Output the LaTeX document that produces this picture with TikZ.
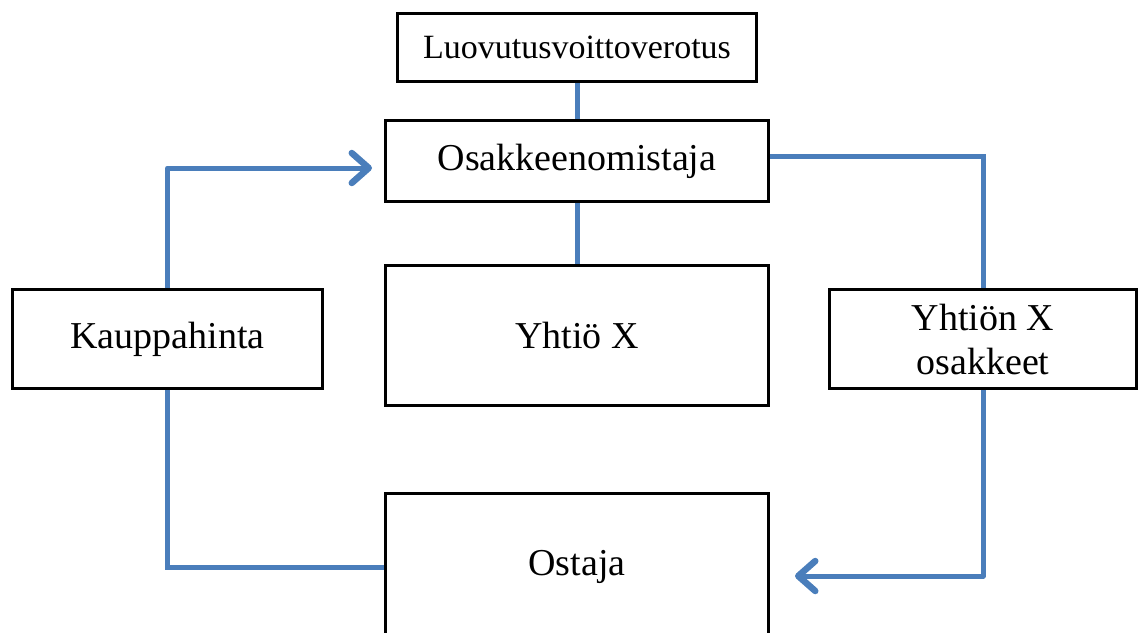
\documentclass[tikz,border=0pt]{standalone}
\usepackage{fontspec}
\setmainfont{Liberation Serif}
\usetikzlibrary{arrows.meta}
\definecolor{flowblue}{HTML}{4A7EBB}
\begin{document}
\begin{tikzpicture}[x=1pt,y=-1pt,
  box/.style={draw=black, line width=3pt, fill=white, inner sep=0pt, align=center,
    font=\fontsize{38}{44}\selectfont},
  link/.style={draw=flowblue, line width=5pt},
  flow/.style={link, line join=round, -{Straight Barb[length=17pt, width=30pt, line width=6.5pt, line cap=round, line join=round]}}]
  \useasboundingbox (0,0) rectangle (1140,632);
  \clip (0,0) rectangle (1140,632);

  % boxes
  \node[box, minimum width=359pt, minimum height=68pt, font=\fontsize{34}{40}\selectfont]
    (luo) at (577,47.5) {Luovutusvoittoverotus};
  \node[box, minimum width=383pt, minimum height=81pt] (osa) at (577,161) {Osakkeenomistaja};
  \node[box, minimum width=383pt, minimum height=140pt] (yx) at (577,335.5) {Yhtiö X};
  \node[box, minimum width=310pt, minimum height=99pt] (kp) at (167.5,339) {Kauppahinta};
  \node[box, minimum width=307pt, minimum height=99pt] (yo) at (983,339) {Yhtiön X\\osakkeet};
  \node[box, minimum width=383pt, minimum height=147pt] (os) at (577,567) {Ostaja};

  % arrow end points
  \coordinate (inOsa) at (372,168);
  \coordinate (inOs) at (795,576);

  % connectors
  \draw[link] (luo.south) -- (osa.north);
  \draw[link] (osa.south) -- (yx.north);
  \draw[flow] (kp.north) |- (inOsa);
  \draw[link] ([yshift=5pt]osa.east) -| (yo.north);
  \draw[flow] (yo.south) |- (inOs);
  \draw[link] (kp.south) |- (os.west);
\end{tikzpicture}
\end{document}
